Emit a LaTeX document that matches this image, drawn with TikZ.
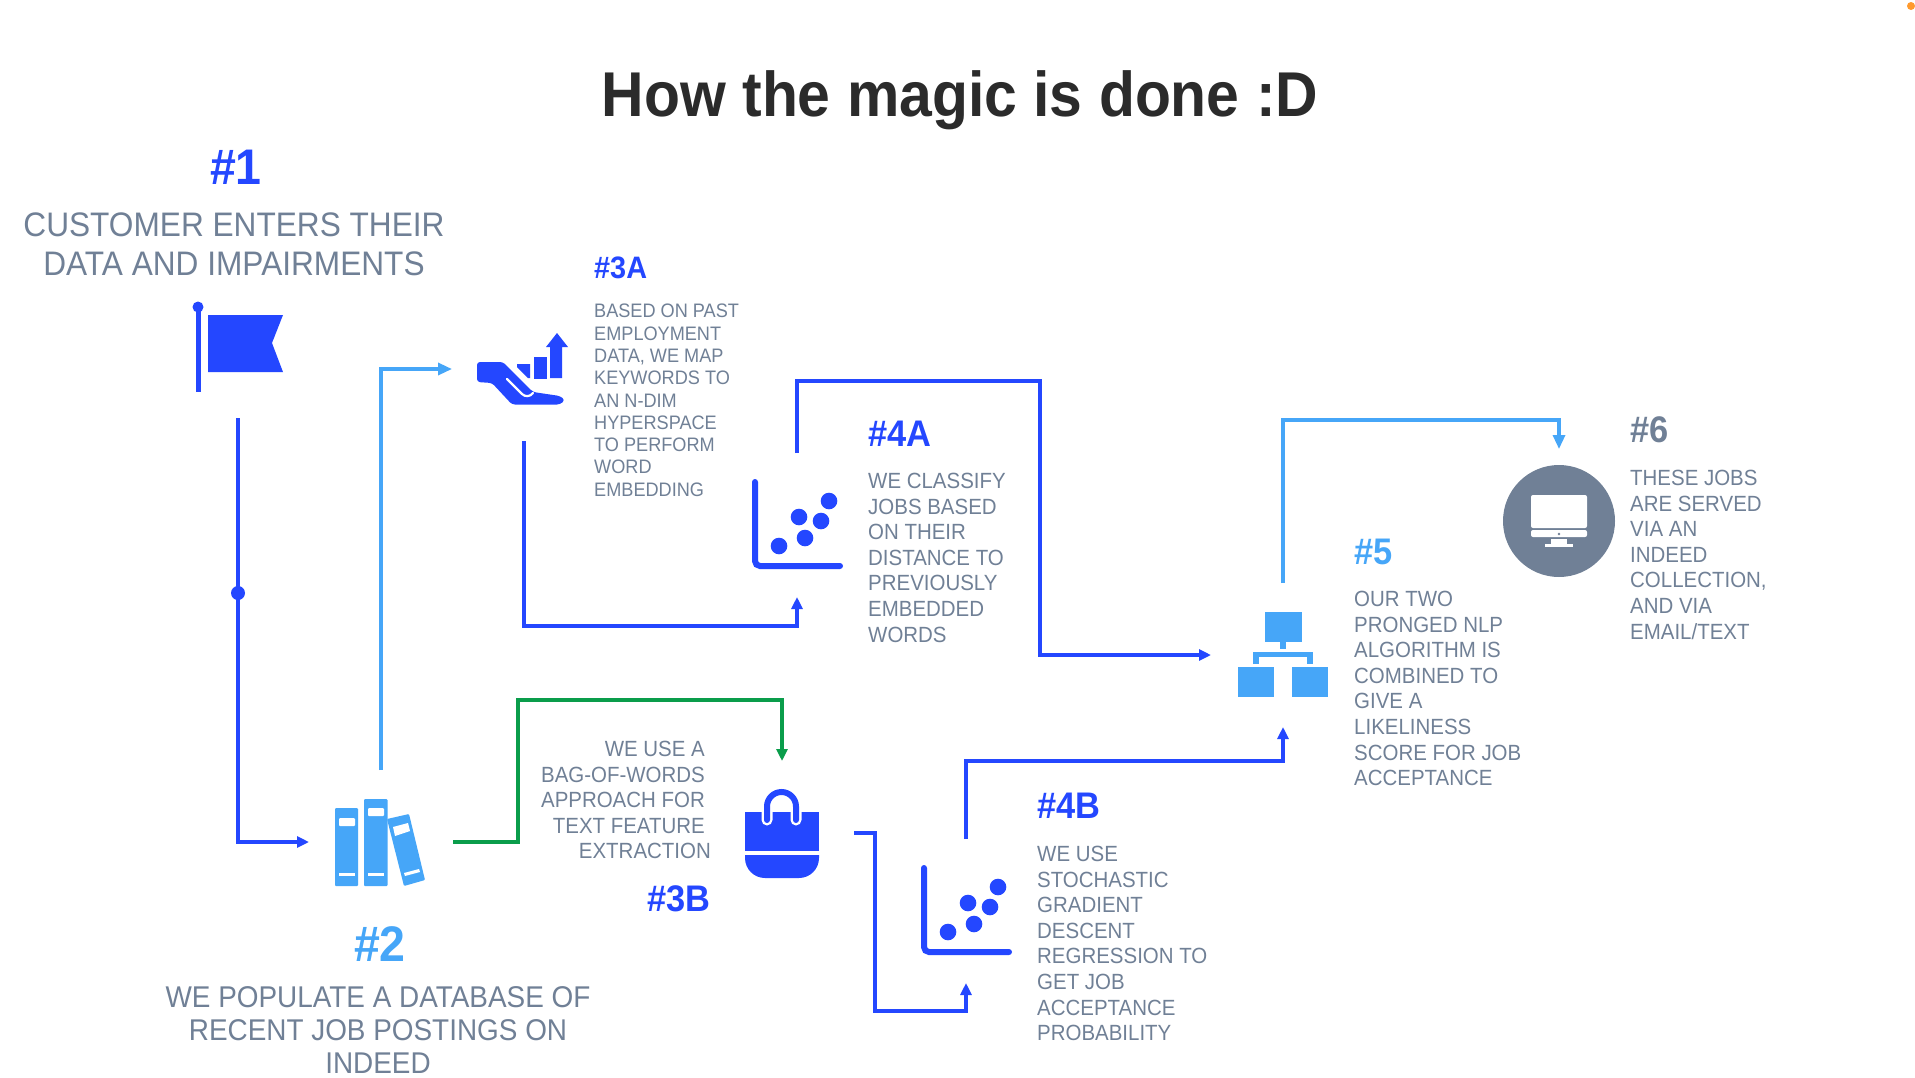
\documentclass[tikz,border=0pt]{standalone}
\usepackage{fontspec}
\setmainfont{Liberation Sans}[FakeStretch=0.93]
\usetikzlibrary{arrows.meta}
\definecolor{deepblue}{HTML}{2447FF}
\definecolor{skyblue}{HTML}{46A6F8}
\definecolor{leafgreen}{HTML}{0A9D4B}
\definecolor{slatetext}{HTML}{708096}
\definecolor{inktitle}{HTML}{2B2B2B}
\definecolor{dotorange}{HTML}{FF9A2E}
\tikzset{
  iconbox/.style={inner sep=0pt, outer sep=0pt, minimum width=144pt, minimum height=144pt},
  bluearrow/.style={-{Triangle[length=12pt, width=11pt]}, line width=3.2pt, deepblue},
  skyarrow/.style={-{Triangle[length=14pt, width=12pt]}, line width=3.2pt, skyblue},
  greenarrow/.style={-{Triangle[length=12pt, width=11pt]}, line width=3.2pt, leafgreen},
  titlelabel/.style={font=\fontsize{63.3}{70}\selectfont\bfseries, text=inktitle},
  biglabel/.style={font=\fontsize{50}{54}\selectfont\bfseries, text=deepblue},
  midlabel/.style={font=\fontsize{37}{40}\selectfont\bfseries, text=deepblue},
  smalllabel/.style={font=\fontsize{31}{34}\selectfont\bfseries, text=deepblue},
  largetext/.style={font=\fontsize{34}{39}\selectfont, text=slatetext, align=center, inner sep=0pt},
  wraptext/.style={font=\fontsize{30}{33}\selectfont, text=slatetext, align=center, inner sep=0pt},
  midtext/.style={font=\fontsize{22}{25.6}\selectfont, text=slatetext, align=left, inner sep=0pt, anchor=north west},
  smalltext/.style={font=\fontsize{19.5}{22.3}\selectfont, text=slatetext, align=left, inner sep=0pt, anchor=north west},
  scatterglyph/.pic={
    \draw[deepblue, line width=6pt, line cap=round, rounded corners=5pt] (-42,-43) -- (-42,41) -- (43,41);
    \foreach \dx/\dy in {32/-24, 2/-8, 24/-4, 8/13, -18/21}
      \fill[deepblue] (\dx,\dy) circle (8.3);
  }
}
\begin{document}
\begin{tikzpicture}[x=1pt, y=-1pt]
  \path[use as bounding box, fill=white] (0,0) rectangle (1915,1077);
  \fill[dotorange] (1911,6) circle (4);

  \node[titlelabel] (title) at (960,100) {How the magic is done :D};

  \node[iconbox] (flagicon) at (238,346) {};
  \node[iconbox] (booksicon) at (381,842) {};
  \node[iconbox] (handicon) at (524,369) {};
  \node[iconbox] (scatterA) at (797,525) {};
  \node[iconbox] (bagicon) at (782,833) {};
  \node[iconbox] (scatterB) at (966,911) {};
  \node[iconbox] (neticon) at (1283,655) {};
  \node[iconbox] (screenicon) at (1559,521) {};

  \fill[deepblue] (198,307) circle (5.5);
  \fill[deepblue] (195.5,307) rectangle (200.5,392);
  \fill[deepblue] (208,315) -- (283,315) -- (272,343) -- (283,372) -- (208,372) -- cycle;

  \fill[skyblue, rounded corners=1pt] (335,808) rectangle (358,886);
  \fill[skyblue, rounded corners=1pt] (364,799) rectangle (387.5,886);
  \fill[skyblue, rounded corners=1pt] (387,819) -- (409,814) -- (425,880) -- (404,886) -- cycle;
  \fill[white, rounded corners=1pt] (339,818) rectangle (355,826);
  \fill[white, rounded corners=1pt] (368,808) rectangle (384,816);
  \fill[white] (339,873) rectangle (355,876);
  \fill[white] (368,873) rectangle (384,876);
  \fill[white] (393,827) -- (408,823) -- (410,831) -- (395,836) -- cycle;
  \fill[white] (404,873) -- (419,869) -- (420,872) -- (405,876) -- cycle;

  \fill[deepblue] (550,378) -- (550,347) -- (546,347) -- (557,333) -- (568,347) -- (562,347) -- (562,378) -- cycle;
  \fill[deepblue] (534,357) rectangle (547,379);
  \fill[deepblue] (517,364) -- (530,364) -- (530,378) -- (528,378) -- (517,367) -- cycle;
  \fill[deepblue, rounded corners=3pt] (477,362) -- (503,362) -- (533,392) -- (560,396) -- (565,400) -- (560,404.5) -- (512,404.5) -- (492,383) -- (477,382) -- cycle;
  \draw[white, line width=2.2pt, line cap=round] (507,379) -- (522,394) .. controls (525,397) and (530,397) .. (533,393);

  \fill[deepblue] (745,812) rectangle (819,851);
  \fill[deepblue] (745,855) -- (745,858) arc[start angle=180, end angle=90, radius=20] -- (799,878) arc[start angle=90, end angle=0, radius=20] -- (819,855) -- cycle;
  \draw[white, line width=11pt, line cap=round] (767,820) -- (767,806.5) arc[start angle=180, end angle=360, radius=14.5] -- (796,820);
  \draw[deepblue, line width=6pt, line cap=round] (767,820) -- (767,806.5) arc[start angle=180, end angle=360, radius=14.5] -- (796,820);

  \pic at (scatterA) {scatterglyph};
  \pic at (scatterB) {scatterglyph};

  \fill[skyblue] (1265,612) rectangle (1302,642);
  \fill[skyblue] (1280,642) rectangle (1286,649);
  \fill[skyblue] (1253,652) rectangle (1313,657);
  \fill[skyblue] (1253,657) rectangle (1259,664);
  \fill[skyblue] (1307,657) rectangle (1313,664);
  \fill[skyblue] (1238,667) rectangle (1274,697);
  \fill[skyblue] (1292,667) rectangle (1328,697);

  \fill[slatetext] (screenicon.center) circle (56);
  \fill[white, rounded corners=2pt] (1531,495) rectangle (1587,528);
  \fill[white, rounded corners=2pt] (1531,530) rectangle (1587,537);
  \fill[slatetext] (1559,534) circle (1.3);
  \fill[white] (1551,539) rectangle (1567,544);
  \fill[white] (1545,544) rectangle (1573,547);

  \draw[bluearrow] (flagicon.south) |- (booksicon.west);
  \fill[deepblue] (238,593) circle (7);
  \draw[skyarrow] (booksicon.north) |- (handicon.west);
  \draw[greenarrow] (booksicon.east) -| (518,700) -| (bagicon.north);
  \draw[bluearrow] (handicon.south) -- (524,626) -| (scatterA.south);
  \draw[bluearrow] (scatterA.north) -- (797,381) -| (1040,655) -- (neticon.west);
  \draw[bluearrow] (bagicon.east) -| (875,1011) -| (scatterB.south);
  \draw[bluearrow] (scatterB.north) -- (966,761) -| (neticon.south);
  \draw[skyarrow] (neticon.north) -- (1283,420) -| (screenicon.north);

  \node[biglabel] (headone) at (236,167) {\#1};
  \node[largetext] (textone) at (234,244) {CUSTOMER ENTERS THEIR\\DATA AND IMPAIRMENTS};
  \node[biglabel, text=skyblue] (headtwo) at (380,944) {\#2};
  \node[wraptext] (texttwo) at (378,1030) {WE POPULATE A DATABASE OF\\RECENT JOB POSTINGS ON\\INDEED};
  \node[smalllabel, anchor=west, inner sep=0pt] (headthreeA) at (594,268) {\#3A};
  \node[smalltext] (textthreeA) at (594,304) {BASED ON PAST\\EMPLOYMENT\\DATA, WE MAP\\KEYWORDS TO\\AN N-DIM\\HYPERSPACE\\TO PERFORM\\WORD\\EMBEDDING};
  \node[midlabel, anchor=east, inner sep=0pt] (headthreeB) at (711,899) {\#3B};
  \node[midtext, anchor=north east, align=right] (textthreeB) at (711,741) {WE USE A\rule{6pt}{0pt}\\BAG-OF-WORDS\rule{6pt}{0pt}\\APPROACH FOR\rule{6pt}{0pt}\\TEXT FEATURE\rule{6pt}{0pt}\\EXTRACTION};
  \node[midlabel, anchor=west, inner sep=0pt] (headfourA) at (868,434) {\#4A};
  \node[midtext] (textfourA) at (868,473) {WE CLASSIFY\\JOBS BASED\\ON THEIR\\DISTANCE TO\\PREVIOUSLY\\EMBEDDED\\WORDS};
  \node[midlabel, anchor=west, inner sep=0pt] (headfourB) at (1037,806) {\#4B};
  \node[midtext] (textfourB) at (1037,846) {WE USE\\STOCHASTIC\\GRADIENT\\DESCENT\\REGRESSION TO\\GET JOB\\ACCEPTANCE\\PROBABILITY};
  \node[midlabel, anchor=west, inner sep=0pt, text=skyblue] (headfive) at (1354,552) {\#5};
  \node[midtext] (textfive) at (1354,591) {OUR TWO\\PRONGED NLP\\ALGORITHM IS\\COMBINED TO\\GIVE A\\LIKELINESS\\SCORE FOR JOB\\ACCEPTANCE};
  \node[midlabel, anchor=west, inner sep=0pt, text=slatetext] (headsix) at (1630,430) {\#6};
  \node[midtext] (textsix) at (1630,470) {THESE JOBS\\ARE SERVED\\VIA AN\\INDEED\\COLLECTION,\\AND VIA\\EMAIL/TEXT};
\end{tikzpicture}
\end{document}
